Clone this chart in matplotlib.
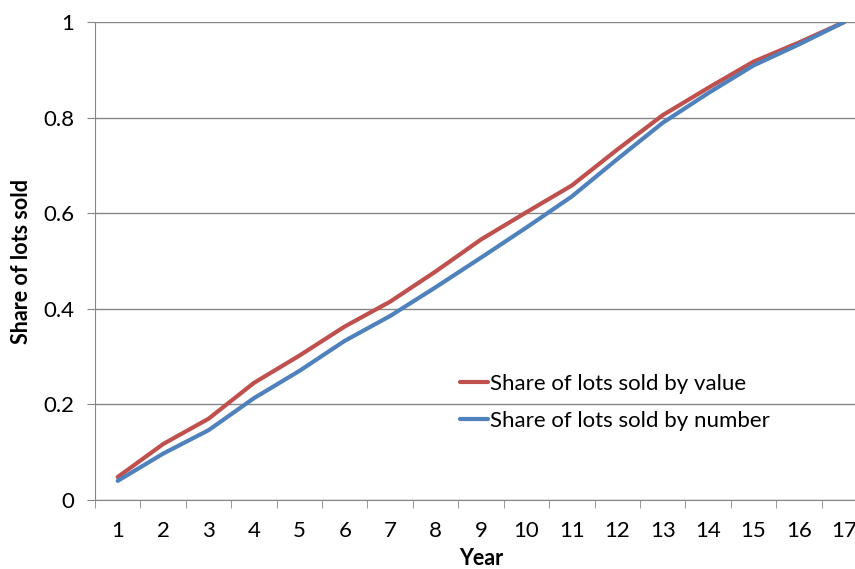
import matplotlib
matplotlib.use("Agg")
import matplotlib.pyplot as plt
from matplotlib.ticker import FixedLocator, NullFormatter

# data
years = list(range(1, 18))
share_by_value = [0.048, 0.117, 0.170, 0.245, 0.302, 0.363, 0.415, 0.478, 0.545,
                  0.602, 0.658, 0.733, 0.805, 0.862, 0.917, 0.957, 1.000]
share_by_number = [0.040, 0.097, 0.146, 0.213, 0.270, 0.333, 0.385, 0.445, 0.507,
                   0.570, 0.635, 0.713, 0.789, 0.851, 0.909, 0.953, 1.000]
y_ticks = [0, 0.2, 0.4, 0.6, 0.8, 1]
y_labels = ["0", "0.2", "0.4", "0.6", "0.8", "1"]

plt.rcParams['font.family'] = ['Lato', 'DejaVu Sans']
grey = '#868686'

fig = plt.figure(figsize=(8.55, 5.69), dpi=100)
# plot area runs past the right edge, as in the cropped original
ax = fig.add_axes([95 / 855, 1 - 500 / 569, 772 / 855, 478 / 569])

ax.plot(years, share_by_value, color='#C0504D', linewidth=3, label='Share of lots sold by value',
        solid_capstyle='round')
ax.plot(years, share_by_number, color='#4F81BD', linewidth=3, label='Share of lots sold by number',
        solid_capstyle='round')

ax.set_xlim(0.5, 17.5)
ax.set_ylim(0, 1)

ax.set_yticks(y_ticks)
ax.set_yticklabels(y_labels, fontsize=16)
ax.set_xticks(years)
ax.set_xticklabels([str(y) for y in years], fontsize=16)
ax.xaxis.set_minor_locator(FixedLocator([y + 0.5 for y in range(0, 18)]))
ax.xaxis.set_minor_formatter(NullFormatter())
ax.tick_params(axis='x', which='major', length=0, pad=15)
ax.tick_params(axis='x', which='minor', length=6, color=grey, direction='out')
ax.tick_params(axis='y', length=6, color=grey, direction='out', pad=9)

ax.grid(axis='y', color=grey, linewidth=1)
ax.set_axisbelow(True)
for side in ['top', 'right']:
    ax.spines[side].set_visible(False)
for side in ['left', 'bottom']:
    ax.spines[side].set_color(grey)

ax.set_xlabel('Year', fontsize=15.5, fontweight='bold', labelpad=5)
ax.set_ylabel('Share of lots sold', fontsize=15.5, fontweight='bold', labelpad=8)

ax.legend(loc='center left', bbox_to_anchor=(0.473, 0.204), frameon=False, fontsize=16,
          handlelength=1.25, handletextpad=0.1, labelspacing=0.75, borderpad=0, borderaxespad=0)

fig.savefig('out.png', dpi=100)
